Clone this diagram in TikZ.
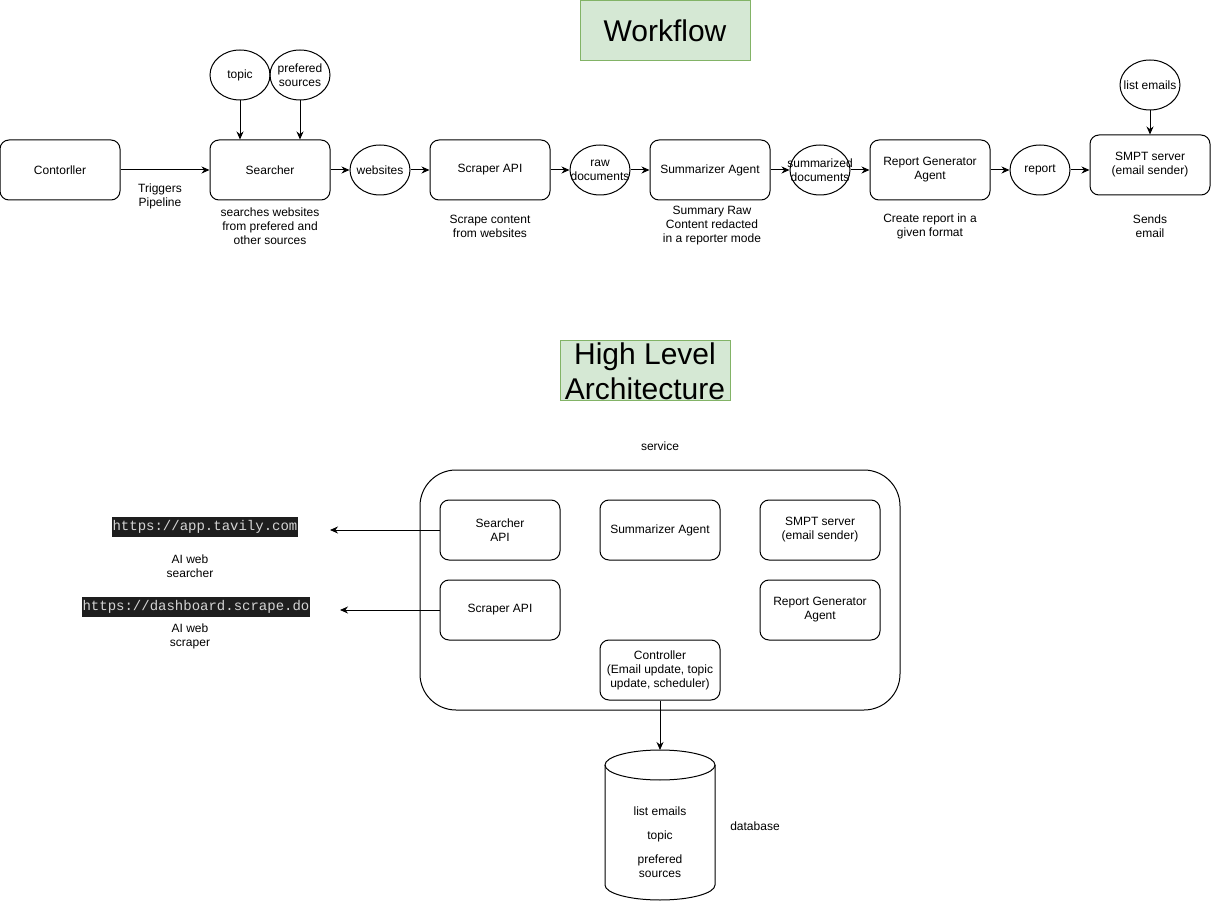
\documentclass[tikz,border=0pt]{standalone}
\usepackage{fontspec}
\setmainfont{Liberation Sans}
\newfontfamily\codefont{Liberation Mono}
\usetikzlibrary{arrows.meta,shapes.geometric}
\definecolor{titlefill}{HTML}{D5E8D4}
\definecolor{titledraw}{HTML}{82B366}
\definecolor{codebg}{HTML}{1E1E1E}
\definecolor{codefg}{HTML}{D4D4D4}
\begin{document}
\begin{tikzpicture}[x=1pt,y=-1pt,line width=1pt,
  every node/.style={font=\fontsize{12}{14}\selectfont,align=center,inner sep=0pt},
  box/.style={draw,rounded corners=9pt,minimum width=120pt,minimum height=60pt},
  ell/.style={draw,ellipse,inner sep=-20pt,minimum width=60pt,minimum height=50pt},
  title/.style={draw=titledraw,fill=titlefill,minimum width=170pt,minimum height=60pt,font=\fontsize{30}{35}\selectfont},
  lbl/.style={},
  code/.style={fill=codebg,text=codefg,font=\codefont\fontsize{14}{16}\selectfont,inner xsep=1pt,minimum height=20pt},
  arr/.style={-{Stealth[length=8pt,width=7pt]}}]
\useasboundingbox (0,0) rectangle (1211,901);
% ---------- Workflow ----------
\node[title] (wf) at (665,31) {Workflow};
\node[box] (ctrl) at (60,170) {Contorller};
\node[box] (srch) at (270,170) {Searcher};
\node[ell] (topic) at (240,75) {topic};
\node[ell] (pref) at (300,75) {prefered\\sources};
\node[ell] (web) at (380,170) {websites};
\node[box] (scr) at (490,170) {Scraper API};
\node[ell] (raw) at (600,170) {raw\\documents};
\node[box] (sum) at (710,170) {Summarizer Agent};
\node[ell] (sdoc) at (820,170) {summarized\\documents};
\node[box] (rep) at (930,170) {Report Generator\\Agent};
\node[ell] (rpt) at (1040,170) {report};
\node[box] (smtp) at (1150,165) {SMPT server\\(email sender)};
\node[ell] (le) at (1150,85) {list emails};
\node[lbl] (trg) at (160,196) {Triggers\\Pipeline};
\node[lbl] (l1) at (270,226) {searches websites\\from prefered and\\other sources};
\node[lbl] (l2) at (490,226) {Scrape content\\from websites};
\node[lbl] (l3) at (712,226) {Summary Raw\\Content redacted\\in a reporter mode};
\node[lbl] (l4) at (930,226) {Create report in a\\given format};
\node[lbl] (l5) at (1150,226) {Sends\\email};
\draw[arr] (ctrl.east) -- (srch.west);
\draw[arr] (topic.south) -- (topic.south |- srch.north);
\draw[arr] (pref.south) -- (pref.south |- srch.north);
\draw[arr] (srch.east) -- (web.west);
\draw[arr] (web.east) -- (scr.west);
\draw[arr] (scr.east) -- (raw.west);
\draw[arr] (raw.east) -- (sum.west);
\draw[arr] (sum.east) -- (sdoc.west);
\draw[arr] (sdoc.east) -- (rep.west);
\draw[arr] (rep.east) -- (rpt.west);
\draw[arr] (rpt.east) -- (rpt.east -| smtp.west);
\draw[arr] (le.south) -- (smtp.north);
% ---------- Architecture ----------
\node[title] (hla) at (645,371) {High Level\\Architecture};
\node[lbl] (svcl) at (660,446) {service};
\node[draw,rounded corners=36pt,minimum width=480pt,minimum height=240pt] (svc) at (660,590) {};
\node[box] (asrch) at (500,530) {Searcher\\API};
\node[box] (asum) at (660,530) {Summarizer Agent};
\node[box] (asmtp) at (820,530) {SMPT server\\(email sender)};
\node[box] (ascr) at (500,610) {Scraper API};
\node[box] (arep) at (820,610) {Report Generator\\Agent};
\node[box] (actl) at (660,670) {Controller\\(Email update, topic\\update, scheduler)};
\node[code] (tav) at (205,527) {https://app.tavily.com};
\node[lbl] (tavl) at (190,566) {AI web\\searcher};
\node[code] (sdo) at (196,607) {https://dashboard.scrape.do};
\node[lbl] (sdol) at (190,636) {AI web\\scraper};
\coordinate (tavend) at (330,530);
\coordinate (sdoend) at (340,610);
\draw[arr] (asrch.west) -- (tavend);
\draw[arr] (ascr.west) -- (sdoend);
% database cylinder
\coordinate (dbtop) at (660,750);
\draw (605,765) -- (605,885) arc[start angle=180,end angle=360,x radius=55pt,y radius=15pt] -- (715,765);
\draw (660,765) ellipse[x radius=55pt,y radius=15pt];
\node[lbl] (db1) at (660,811) {list emails};
\node[lbl] (db2) at (660,836) {topic};
\node[lbl] (db3) at (660,866) {prefered\\sources};
\node[lbl] (dbl) at (755,826) {database};
\draw[arr] (actl.south) -- (dbtop);
\end{tikzpicture}
\end{document}
